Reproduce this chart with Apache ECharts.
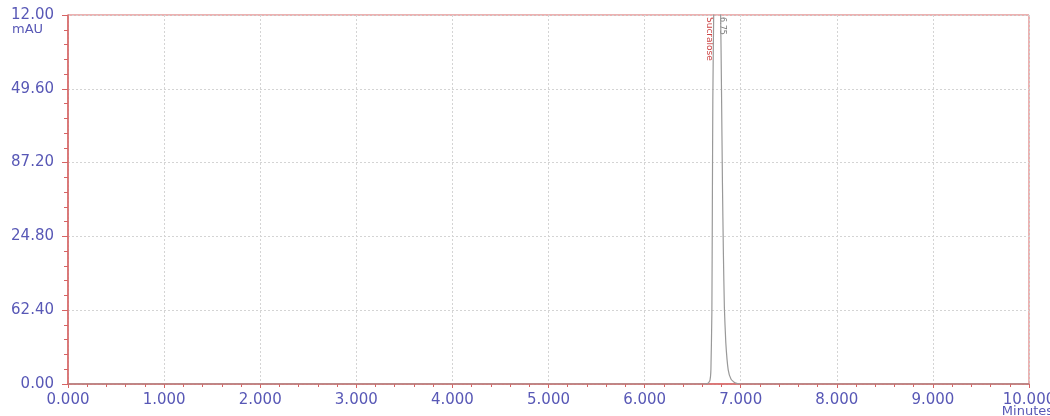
<!DOCTYPE html>
<html><head><meta charset="utf-8">
<script src="https://cdn.jsdelivr.net/npm/echarts@6/dist/echarts.min.js"></script>
<style>html,body{margin:0;padding:0;background:#fff}#c{width:1050px;height:416px}</style>
</head><body><div id="c"></div>
<script>
// Chromatogram trace (minutes, mAU)
const times = [0.0, 1.0, 2.0, 3.0, 4.0, 5.0, 6.0, 6.6, 6.66, 6.68, 6.69, 6.70, 6.705, 6.71, 6.72, 6.74, 6.755, 6.77, 6.79, 6.80, 6.81, 6.82, 6.83, 6.845, 6.87, 6.90, 6.94, 7.0, 8.0, 9.0, 10.0];
const absorbance = [0, 0, 0, 0, 0, 0, 0, 0, 0.5, 3, 12, 60, 150, 240, 320, 390, 400, 385, 320, 250, 170, 110, 65, 35, 12, 4, 1, 0, 0, 0, 0];
const yTickLabels = ["0.00", "62.40", "24.80", "87.20", "49.60", "12.00"];
const xTickLabels = ["0.000", "1.000", "2.000", "3.000", "4.000", "5.000", "6.000", "7.000", "8.000", "9.000", "10.000"];
const yUnit = "mAU";
const xUnit = "Minutes";
const peakTime = 6.755;
const peakName = "Sucralose";
const peakRT = "6.75";

const axisRed = '#d66464';
const labelBlue = '#5858b6';
const gridGray = '#d4d4d4';
const font = 'DejaVu Sans';

const chart = echarts.init(document.getElementById('c'), null, {renderer: 'canvas'});
const option = {
  backgroundColor: '#ffffff',
  animation: false,
  grid: {left: 68, right: 21, top: 15, bottom: 32, outerBoundsMode: 'none', containLabel: false,
    show: true, borderColor: axisRed, borderWidth: 1, backgroundColor: 'transparent'},
  xAxis: {
    type: 'value', min: 0, max: 10, interval: 1,
    axisLine: {show: true, onZero: false, lineStyle: {color: axisRed, width: 1.5}},
    axisTick: {show: true, length: 4, lineStyle: {color: axisRed}},
    minorTick: {show: true, splitNumber: 5, length: 3, lineStyle: {color: axisRed}},
    splitLine: {show: true, lineStyle: {color: gridGray, type: [2, 2], width: 1}},
    axisLabel: {color: labelBlue, fontFamily: font, fontSize: 15, margin: 9,
      formatter: v => xTickLabels[Math.round(v)]}
  },
  yAxis: {
    type: 'value', min: 0, max: 312, interval: 62.4,
    axisLine: {show: true, onZero: false, lineStyle: {color: axisRed, width: 1.5}},
    axisTick: {show: true, length: 6, lineStyle: {color: axisRed}},
    minorTick: {show: true, splitNumber: 5, length: 4, lineStyle: {color: axisRed}},
    splitLine: {show: true, lineStyle: {color: gridGray, type: [2, 2], width: 1}},
    axisLabel: {color: labelBlue, fontFamily: font, fontSize: 15, margin: 14,
      formatter: v => yTickLabels[Math.round(v / 62.4)]}
  },
  series: [{
    type: 'line',
    data: times.map((t, i) => [t, absorbance[i]]),
    showSymbol: false,
    smooth: 0.15,
    clip: true,
    lineStyle: {color: '#999999', width: 1.2}
  }]
};
chart.setOption(option);

const peakTop = chart.convertToPixel({gridIndex: 0}, [peakTime, 312]);
const ax0 = chart.convertToPixel({gridIndex: 0}, [0, 312]);
const ax1 = chart.convertToPixel({gridIndex: 0}, [10, 0]);
chart.setOption({
  graphic: [
    {type: 'text', left: ax0[0] - 56, top: ax0[1] + 8,
      style: {text: yUnit, fill: labelBlue, font: '13px ' + font}},
    {type: 'text', right: -3, top: ax1[1] + 21,
      style: {text: xUnit, fill: labelBlue, font: '13px ' + font}},
    {type: 'text', x: peakTop[0] - 3, y: peakTop[1] + 2, rotation: -Math.PI / 2,
      style: {text: peakName, fill: '#cc4444', font: '9px ' + font, align: 'left', verticalAlign: 'top'}},
    {type: 'text', x: peakTop[0] + 1, y: peakTop[1] + 2, rotation: -Math.PI / 2,
      style: {text: peakRT, fill: '#777777', font: '8px ' + font, align: 'left', verticalAlign: 'bottom'}}
  ]
});
</script>
</body></html>
